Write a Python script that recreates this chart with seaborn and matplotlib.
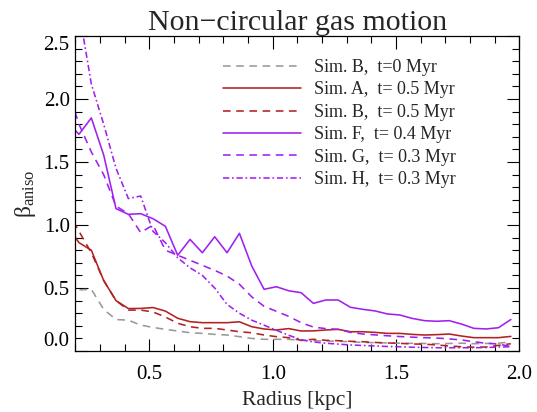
import matplotlib
matplotlib.use("Agg")
import matplotlib.pyplot as plt
import numpy as np
import pandas as pd
import seaborn as sns
from matplotlib.ticker import MultipleLocator

# Radial bins (kpc); the first bin lies just inside the plotted range
radius = [0.165, 0.215, 0.265, 0.315, 0.365, 0.415, 0.465, 0.515, 0.565, 0.615,
          0.665, 0.715, 0.765, 0.815, 0.865, 0.915, 0.965, 1.015, 1.065, 1.115,
          1.165, 1.215, 1.265, 1.315, 1.365, 1.415, 1.465, 1.515, 1.565, 1.615,
          1.665, 1.715, 1.765, 1.815, 1.865, 1.915, 1.965]

# Velocity anisotropy profiles
sim_b_t0 = [0.46, 0.485, 0.49, 0.33, 0.25, 0.245, 0.206, 0.187, 0.172, 0.159,
            0.145, 0.14, 0.132, 0.127, 0.114, 0.10, 0.093, 0.093, 0.093, 0.084,
            0.082, 0.080, 0.077, 0.074, 0.068, 0.066, 0.064, 0.062, 0.061, 0.060,
            0.058, 0.060, 0.062, 0.058, 0.060, 0.062, 0.072]
sim_a_t05 = [1.0, 0.86, 0.80, 0.56, 0.40, 0.337, 0.338, 0.345, 0.317, 0.26,
             0.233, 0.225, 0.225, 0.225, 0.232, 0.193, 0.175, 0.167, 0.178, 0.159,
             0.16, 0.167, 0.172, 0.153, 0.153, 0.148, 0.14, 0.14, 0.132, 0.127,
             0.13, 0.135, 0.119, 0.106, 0.106, 0.106, 0.116]
sim_b_t05 = [1.12, 0.95, 0.78, 0.56, 0.40, 0.325, 0.325, 0.31, 0.27, 0.22,
             0.193, 0.18, 0.18, 0.167, 0.153, 0.145, 0.127, 0.114, 0.106, 0.085,
             0.093, 0.085, 0.082, 0.077, 0.074, 0.068, 0.064, 0.061, 0.056, 0.054,
             0.048, 0.040, 0.034, 0.030, 0.032, 0.045, 0.058]
sim_f_t04 = [1.82, 1.72, 1.85, 1.556, 1.13, 1.085, 1.09, 1.05, 0.99, 0.76,
             0.886, 0.78, 0.907, 0.78, 0.934, 0.675, 0.49, 0.51, 0.478, 0.463,
             0.378, 0.405, 0.405, 0.347, 0.331, 0.318, 0.294, 0.286, 0.259, 0.241,
             0.236, 0.241, 0.214, 0.18, 0.175, 0.185, 0.25]
sim_g_t03 = [2.1, 1.80, 1.58, 1.40, 1.15, 1.09, 0.94, 1.0, 0.80, 0.76,
             0.72, 0.68, 0.64, 0.595, 0.53, 0.43, 0.355, 0.315, 0.275, 0.225,
             0.19, 0.178, 0.172, 0.148, 0.135, 0.128, 0.121, 0.115, 0.110, 0.106,
             0.103, 0.096, 0.088, 0.074, 0.061, 0.056, 0.035]
sim_h_t03 = [3.0, 2.70, 2.12, 1.80, 1.45, 1.21, 1.23, 0.95, 0.86, 0.74,
             0.66, 0.60, 0.50, 0.37, 0.30, 0.245, 0.205, 0.165, 0.125, 0.09,
             0.072, 0.062, 0.055, 0.048, 0.044, 0.04, 0.036, 0.034, 0.03, 0.028,
             0.026, 0.026, 0.026, 0.026, 0.028, 0.032, 0.034]

labels = ["Sim. B,  t=0 Myr", "Sim. A,  t= 0.5 Myr", "Sim. B,  t= 0.5 Myr",
          "Sim. F,  t= 0.4 Myr", "Sim. G,  t= 0.3 Myr", "Sim. H,  t= 0.3 Myr"]
series = [sim_b_t0, sim_a_t05, sim_b_t05, sim_f_t04, sim_g_t03, sim_h_t03]

x_ticks = [0.5, 1.0, 1.5, 2.0]
y_ticks = [0.0, 0.5, 1.0, 1.5, 2.0, 2.5]

gray, red, violet = "#999999", "#B22222", "#A020F0"
palette = dict(zip(labels, [gray, red, red, violet, violet, violet]))
dash = (5.5, 4.0)
dashdot = (4.5, 2.0, 1.2, 2.0)
dashes = dict(zip(labels, [dash, "", dash, "", dash, dashdot]))

df = pd.DataFrame({
    "radius": np.tile(radius, len(series)),
    "beta": np.concatenate(series),
    "run": np.repeat(labels, len(radius)),
})

sns.set_style("ticks")
plt.rcParams["font.family"] = ["Liberation Serif", "DejaVu Serif"]
plt.rcParams["mathtext.fontset"] = "custom"
plt.rcParams["mathtext.rm"] = "Liberation Serif"
plt.rcParams["mathtext.it"] = "Liberation Serif:italic"
plt.rcParams["lines.scale_dashes"] = False

fig = plt.figure(figsize=(5.37, 4.12), dpi=100)
ax = fig.add_axes([0.1402, 0.148, 0.8272, 0.7646])

sns.lineplot(data=df, x="radius", y="beta", hue="run", style="run",
             hue_order=labels, style_order=labels, palette=palette,
             dashes=dashes, linewidth=1.15, sort=False, ax=ax, legend=True)

ax.set_xlim(0.2, 2.0)
ax.set_ylim(0.0, 2.5)
ax.set_xticks(x_ticks)
ax.set_yticks(y_ticks)
ax.xaxis.set_minor_locator(MultipleLocator(0.1))
ax.yaxis.set_minor_locator(MultipleLocator(0.1))
ax.set_xticklabels([f"{v:.1f}" for v in x_ticks])
ax.set_yticklabels([f"{v:.1f}" for v in y_ticks])
ax.tick_params(which="both", direction="in", top=True, right=True,
               colors="black", width=0.8)
ax.tick_params(which="major", length=9, labelsize=15)
ax.tick_params(which="minor", length=5)
ax.tick_params(axis="x", which="major", pad=10)
ax.tick_params(axis="y", which="major", pad=4)
ylabs = ax.get_yticklabels()
ylabs[0].set_verticalalignment("bottom")
ylabs[-1].set_verticalalignment("top")
for s in ax.spines.values():
    s.set_linewidth(0.9)
    s.set_color("black")

ax.set_xlabel("Radius [kpc]", fontsize=15.5, labelpad=5)
ax.set_ylabel(r"$\mathrm{\beta_{aniso}}$", fontsize=17, labelpad=4)
ax.set_title("Non\u2212circular gas motion", fontsize=21.5, pad=3)

handles, _ = ax.get_legend_handles_labels()
ax.legend(handles=handles, labels=labels, loc="upper left",
          bbox_to_anchor=(223 / 537, 1 - 59 / 412),
          bbox_transform=fig.transFigure, frameon=False, fontsize=13,
          handlelength=4.3, handletextpad=0.75, labelspacing=0.3,
          borderpad=0, borderaxespad=0)

fig.savefig("out.png", dpi=100)
